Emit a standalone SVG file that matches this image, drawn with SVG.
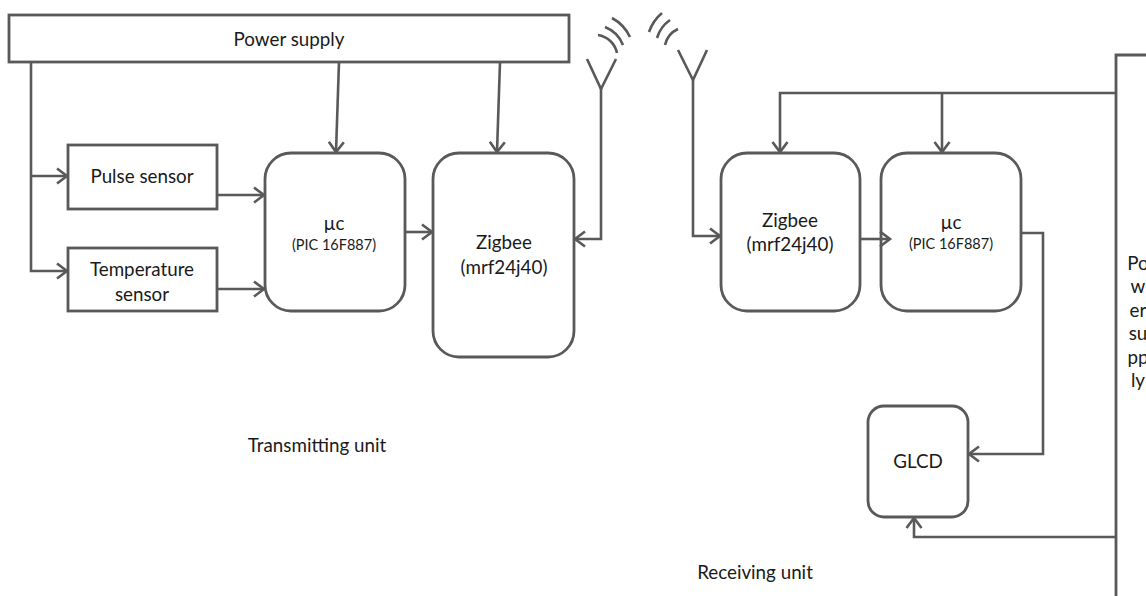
<svg xmlns="http://www.w3.org/2000/svg" width="1146" height="596" viewBox="0 0 1146 596">
<defs>
<marker id="ah" markerUnits="userSpaceOnUse" markerWidth="14" markerHeight="18" refX="11" refY="9" orient="auto">
<path d="M1,1.5 L11,9 L1,16.5" fill="none" stroke="#595959" stroke-width="2.6"/>
</marker>
<style>
.box{fill:#fff;stroke:#595959;stroke-width:2.8}
.ln{fill:none;stroke:#595959;stroke-width:2.6}
.t{font-family:Lato,"Open Sans","Liberation Sans",sans-serif;fill:#1a1a1a;text-anchor:middle}
.big{font-size:18.8px}
.sm{font-size:14.5px}
</style>
</defs>
<rect width="1146" height="596" fill="#fff"/>

<g id="tx-antenna">
<path class="ln" d="M587,59 L601,89 L616,59"/>
<path class="ln" d="M598,35 A23,23 0 0 1 617,53"/>
<path class="ln" d="M605,27 A32,32 0 0 1 623,45"/>
<path class="ln" d="M612,18 A42,42 0 0 1 630,37"/>
</g>
<g id="rx-antenna">
<path class="ln" d="M678,50 L693,80 L707,50"/>
<path class="ln" d="M665,45 A23,23 0 0 1 678,29"/>
<path class="ln" d="M657,38 A34,34 0 0 1 670,20"/>
<path class="ln" d="M649,32 A43,43 0 0 1 662,13"/>
</g>

<g id="power-supply">
<rect class="box" x="9" y="15" width="560" height="47"/>
<text class="t big" x="289" y="46">Power supply</text>
</g>
<g id="pulse-sensor">
<rect class="box" x="68" y="145" width="149" height="64"/>
<text class="t big" x="142" y="183">Pulse sensor</text>
</g>
<g id="temperature-sensor">
<rect class="box" x="68" y="248" width="149" height="63"/>
<text class="t big" x="142" y="276">Temperature</text>
<text class="t big" x="142" y="301">sensor</text>
</g>
<g id="tx-uc">
<rect class="box" x="265" y="153" width="140" height="158" rx="26"/>
<text class="t big" x="334" y="230">µc</text>
<text class="t sm" x="334" y="250">(PIC 16F887)</text>
</g>
<g id="tx-zigbee">
<rect class="box" x="433" y="153" width="141" height="204" rx="26"/>
<text class="t big" x="504" y="249">Zigbee</text>
<text class="t big" x="504" y="274">(mrf24j40)</text>
</g>
<g id="rx-zigbee">
<rect class="box" x="721" y="153" width="139" height="158" rx="26"/>
<text class="t big" x="790" y="227">Zigbee</text>
<text class="t big" x="790" y="251">(mrf24j40)</text>
</g>
<g id="rx-uc">
<rect class="box" x="881" y="153" width="140" height="158" rx="26"/>
<text class="t big" x="951" y="229">µc</text>
<text class="t sm" x="951" y="249">(PIC 16F887)</text>
</g>
<g id="glcd">
<rect class="box" x="868" y="406" width="100" height="111" rx="16"/>
<text class="t big" x="918" y="468">GLCD</text>
</g>
<g id="rx-power-supply">
<path class="box" d="M1147,55 H1116 V597" fill="none"/>
<text class="t big" x="1138" y="270">Po</text>
<text class="t big" x="1138" y="293">w</text>
<text class="t big" x="1138" y="317">er</text>
<text class="t big" x="1138" y="340">su</text>
<text class="t big" x="1138" y="364">pp</text>
<text class="t big" x="1138" y="387">ly</text>
</g>
<g id="labels">
<text class="t big" x="317" y="452">Transmitting unit</text>
<text class="t big" x="755" y="579">Receiving unit</text>
</g>

<g id="connectors">
<path class="ln" d="M31,62 V271 H67" marker-end="url(#ah)"/>
<path class="ln" d="M31,176 H67" marker-end="url(#ah)"/>
<path class="ln" d="M217,195 H264" marker-end="url(#ah)"/>
<path class="ln" d="M217,289 H264" marker-end="url(#ah)"/>
<path class="ln" d="M339,62 L336,152" marker-end="url(#ah)"/>
<path class="ln" d="M500,62 L497,152" marker-end="url(#ah)"/>
<path class="ln" d="M405,232 H432" marker-end="url(#ah)"/>
<path class="ln" d="M601,88 V239 H575" marker-end="url(#ah)"/>
<path class="ln" d="M693,80 V236 H720" marker-end="url(#ah)"/>
<path class="ln" d="M860,239 H890" marker-end="url(#ah)"/>
<path class="ln" d="M1021,233 H1043 V454 H969" marker-end="url(#ah)"/>
<path class="ln" d="M1116,537 H914 V518" marker-end="url(#ah)"/>
<path class="ln" d="M1116,93 H780 V152" marker-end="url(#ah)"/>
<path class="ln" d="M942,93 V152" marker-end="url(#ah)"/>
</g>
</svg>
